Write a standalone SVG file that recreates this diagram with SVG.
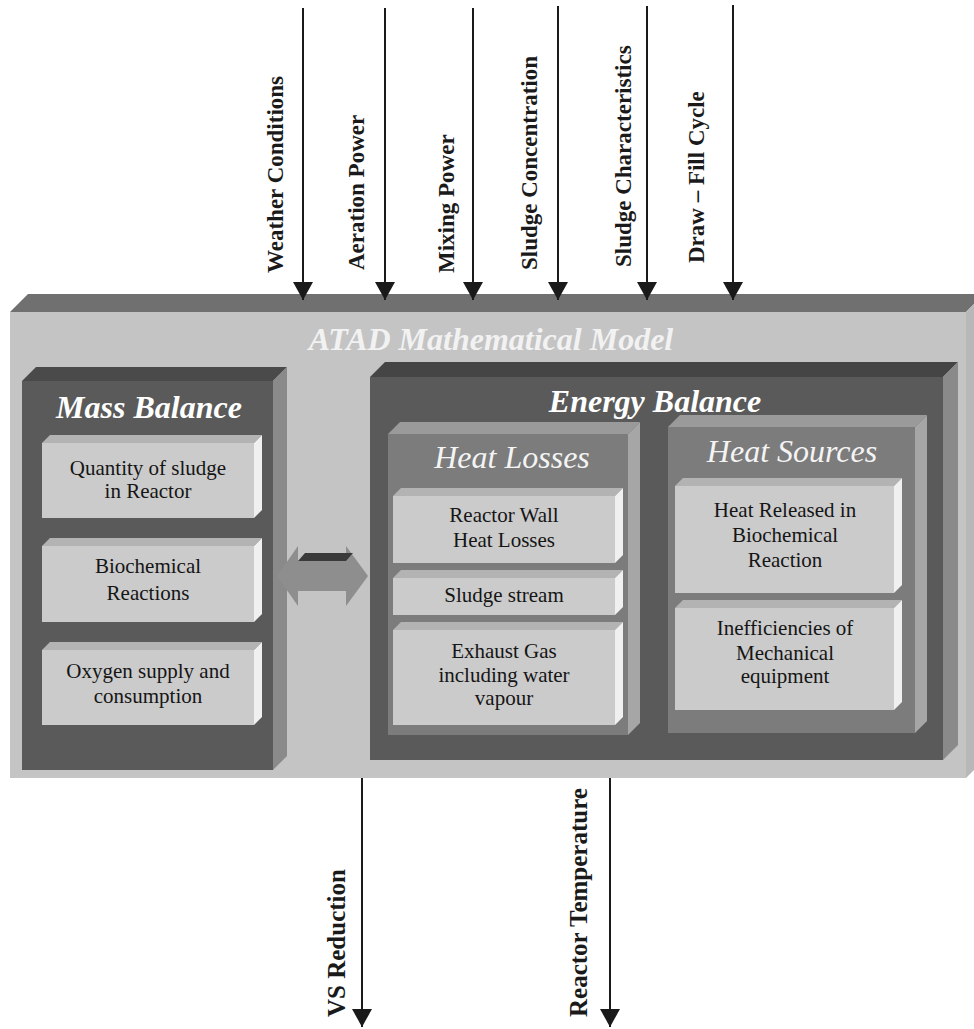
<svg xmlns="http://www.w3.org/2000/svg" width="974" height="1029" viewBox="0 0 974 1029">
<style>
.bxf{fill:#cbcbcb}
.bxt{fill:#b3b3b3}
.bxr{fill:#f0f0f0}
.txt{font-family:"Liberation Serif","Times New Roman",serif;font-size:21px;fill:#151515;text-anchor:middle}
.hdr{font-family:"Liberation Serif","Times New Roman",serif;font-size:32px;font-weight:bold;font-style:italic;fill:#ffffff;text-anchor:middle}
.sub{font-family:"Liberation Serif","Times New Roman",serif;font-size:32px;font-style:italic;fill:#f4f4f4;text-anchor:middle}
.lbl{font-family:"Liberation Serif","Times New Roman",serif;font-size:23px;font-weight:bold;fill:#1a1a1a}
.lbl2{font-family:"Liberation Serif","Times New Roman",serif;font-size:25px;font-weight:bold;fill:#1a1a1a}
.con{stroke:#1a1a1a;stroke-width:2;fill:none;marker-end:url(#ah)}
</style>
<defs>
<marker id="ah" markerUnits="userSpaceOnUse" markerWidth="20" markerHeight="20" refX="18" refY="10" orient="auto">
<path d="M0,0 L18,10 L0,20 z" fill="#1a1a1a"/>
</marker>
</defs>
<rect width="974" height="1029" fill="#ffffff"/>

<g id="platform">
<rect x="10" y="312" width="956" height="466" fill="#c4c4c4"/>
<polygon points="10,312 28,294 984,294 966,312" fill="#707070"/>
<polygon points="966,312 984,294 984,760 966,778" fill="#b8b8b8"/>
<text class="hdr" x="491" y="350" fill="#f2f2f2" style="fill:#f2f2f2">ATAD Mathematical Model</text>
</g>

<g id="mass-balance">
<rect x="22" y="381" width="251" height="389" fill="#5a5a5a"/>
<polygon points="22,381 36,367 287,367 273,381" fill="#4a4a4a"/>
<polygon points="273,381 287,367 287,756 273,770" fill="#8a8a8a"/>
<text class="hdr" x="149" y="418">Mass Balance</text>
</g>

<g id="quantity">
<rect class="bxf" x="42" y="443" width="212" height="75"/>
<polygon class="bxt" points="42,443 50,435 262,435 254,443"/>
<polygon class="bxr" points="254,443 262,435 262,510 254,518"/>
<text class="txt" x="148" y="475">Quantity of sludge</text>
<text class="txt" x="148" y="498">in Reactor</text>
</g>

<g id="biochemical">
<rect class="bxf" x="42" y="546" width="212" height="76"/>
<polygon class="bxt" points="42,546 50,538 262,538 254,546"/>
<polygon class="bxr" points="254,546 262,538 262,614 254,622"/>
<text class="txt" x="148" y="573">Biochemical</text>
<text class="txt" x="148" y="600">Reactions</text>
</g>

<g id="oxygen">
<rect class="bxf" x="42" y="650" width="212" height="75"/>
<polygon class="bxt" points="42,650 50,642 262,642 254,650"/>
<polygon class="bxr" points="254,650 262,642 262,717 254,725"/>
<text class="txt" x="148" y="678">Oxygen supply and</text>
<text class="txt" x="148" y="703">consumption</text>
</g>

<g id="link-arrow">
<polygon points="277,576 298,546 298,561 346,561 346,546 368,576 346,606 346,591 298,591 298,606" fill="#8e8e8e"/>
<polygon points="298,561 305,553 353,553 346,561" fill="#3a3a3a"/>
</g>

<g id="energy-balance">
<rect x="370" y="377" width="573" height="383" fill="#5a5a5a"/>
<polygon points="370,377 385,362 958,362 943,377" fill="#454545"/>
<polygon points="943,377 958,362 958,745 943,760" fill="#8a8a8a"/>
<text class="hdr" x="655" y="412">Energy Balance</text>
</g>

<g id="heat-losses">
<rect x="388" y="434" width="240" height="301" fill="#7c7c7c"/>
<polygon points="388,434 400,422 640,422 628,434" fill="#9a9a9a"/>
<polygon points="628,434 640,422 640,723 628,735" fill="#a6a6a6"/>
<text class="sub" x="512" y="468">Heat Losses</text>
</g>

<g id="reactor-wall">
<rect class="bxf" x="393" y="496" width="222" height="67"/>
<polygon class="bxt" points="393,496 401,488 623,488 615,496"/>
<polygon class="bxr" points="615,496 623,488 623,555 615,563"/>
<text class="txt" x="504" y="522">Reactor Wall</text>
<text class="txt" x="504" y="547">Heat Losses</text>
</g>

<g id="sludge-stream">
<rect class="bxf" x="393" y="578" width="222" height="37"/>
<polygon class="bxt" points="393,578 401,570 623,570 615,578"/>
<polygon class="bxr" points="615,578 623,570 623,607 615,615"/>
<text class="txt" x="504" y="602">Sludge stream</text>
</g>

<g id="exhaust-gas">
<rect class="bxf" x="393" y="630" width="222" height="95"/>
<polygon class="bxt" points="393,630 401,622 623,622 615,630"/>
<polygon class="bxr" points="615,630 623,622 623,717 615,725"/>
<text class="txt" x="504" y="658">Exhaust Gas</text>
<text class="txt" x="504" y="682">including water</text>
<text class="txt" x="504" y="705">vapour</text>
</g>

<g id="heat-sources">
<rect x="668" y="427" width="247" height="306" fill="#7c7c7c"/>
<polygon points="668,427 680,415 927,415 915,427" fill="#9a9a9a"/>
<polygon points="915,427 927,415 927,721 915,733" fill="#a6a6a6"/>
<text class="sub" x="792" y="462">Heat Sources</text>
</g>

<g id="heat-released">
<rect class="bxf" x="675" y="486" width="219" height="107"/>
<polygon class="bxt" points="675,486 683,478 902,478 894,486"/>
<polygon class="bxr" points="894,486 902,478 902,585 894,593"/>
<text class="txt" x="785" y="517">Heat Released in</text>
<text class="txt" x="785" y="542">Biochemical</text>
<text class="txt" x="785" y="567">Reaction</text>
</g>

<g id="inefficiencies">
<rect class="bxf" x="675" y="608" width="219" height="102"/>
<polygon class="bxt" points="675,608 683,600 902,600 894,608"/>
<polygon class="bxr" points="894,608 902,600 902,702 894,710"/>
<text class="txt" x="785" y="635">Inefficiencies of</text>
<text class="txt" x="785" y="660">Mechanical</text>
<text class="txt" x="785" y="683">equipment</text>
</g>

<g id="connectors">
<path class="con" d="M303,8 V300"/>
<path class="con" d="M385,8 V300"/>
<path class="con" d="M473,8 V300"/>
<path class="con" d="M558,6 V300"/>
<path class="con" d="M647,6 V300"/>
<path class="con" d="M733,5 V300"/>
<path class="con" d="M362,778 V1027"/>
<path class="con" d="M610,778 V1027"/>
<text class="lbl" transform="translate(283,273) rotate(-90)">Weather Conditions</text>
<text class="lbl" transform="translate(364,270) rotate(-90)">Aeration Power</text>
<text class="lbl" transform="translate(454,273) rotate(-90)">Mixing Power</text>
<text class="lbl" transform="translate(537,270) rotate(-90)">Sludge Concentration</text>
<text class="lbl" transform="translate(631,267) rotate(-90)">Sludge Characteristics</text>
<text class="lbl" transform="translate(704,263) rotate(-90)">Draw – Fill Cycle</text>
<text class="lbl2" transform="translate(345,1017) rotate(-90)">VS Reduction</text>
<text class="lbl2" transform="translate(587,1017) rotate(-90)">Reactor Temperature</text>
</g>
</svg>
